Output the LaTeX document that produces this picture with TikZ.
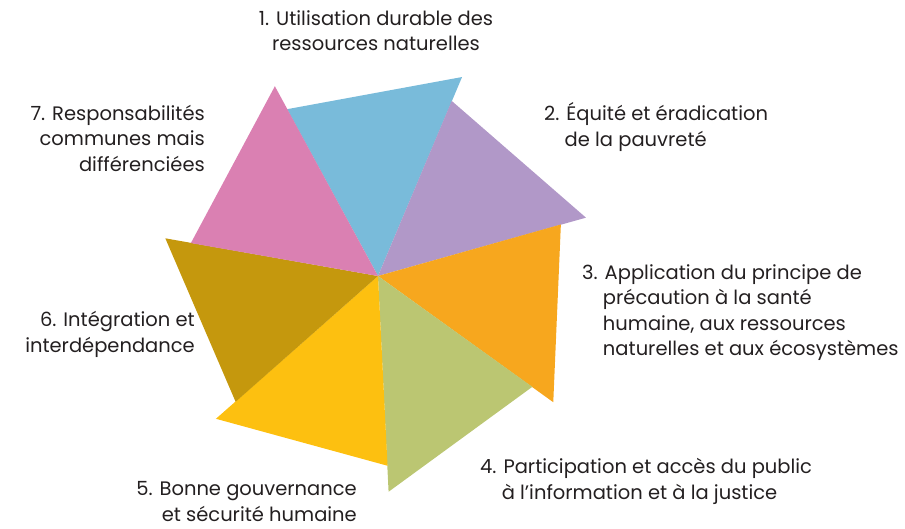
\documentclass[tikz,border=0pt]{standalone}
\usepackage{fontspec}
\setmainfont{Poppins}

\definecolor{tblue}{HTML}{79BBDA}
\definecolor{tpurple}{HTML}{B198C8}
\definecolor{torange}{HTML}{F7A71E}
\definecolor{tgreen}{HTML}{BBC672}
\definecolor{tyellow}{HTML}{FDC010}
\definecolor{tgold}{HTML}{C5980D}
\definecolor{tpink}{HTML}{DA80B2}
\definecolor{txt}{HTML}{231F20}

\tikzset{
    lbl/.style={font=\fontsize{19.5}{25.5}\selectfont, text=txt, inner sep=0pt},
}
% keeps the lines after the first one under the text, not under the number
\newcommand{\hang}[1]{\phantom{#1.\ }}

\begin{document}
\begin{tikzpicture}[x=1pt, y=1pt]
    \useasboundingbox (0, 0) rectangle (905, -528);
    \coordinate (O) at (378, -276);

    % seven wedges, each starting on the outer edge of the one before
    \foreach \c [count=\i] in {tblue, tpurple, torange, tgreen, tyellow, tgold, tpink}
        \fill[\c] (O) -- ([shift={({118.6 - 51.43*(\i-1)}:190)}]O)
                      -- ([shift={({67.1 - 51.43*(\i-1)}:216)}]O) -- cycle;

    % base = baseline of the last line
    \node[lbl, align=center, anchor=base] (p1) at (376, -50.5)
        {1. Utilisation durable des\\ressources naturelles};
    \node[lbl, align=left, anchor=base west] (p2) at (544, -146)
        {2. Équité et éradication\\\hang{2}de la pauvreté};
    \node[lbl, align=left, anchor=base west] (p3) at (582, -355.5)
        {3. Application du principe de\\\hang{3}précaution à la santé\\\hang{3}humaine, aux ressources\\\hang{3}naturelles et aux écosystèmes};
    \node[lbl, align=left, anchor=base west] (p4) at (480, -499)
        {4. Participation et accès du public\\\hang{4}à l’information et à la justice};
    \node[lbl, align=right, anchor=base east] (p5) at (357, -521)
        {5. Bonne gouvernance\\et sécurité humaine};
    \node[lbl, align=right, anchor=base east] (p6) at (195, -352)
        {6. Intégration et\\interdépendance};
    \node[lbl, align=right, anchor=base east] (p7) at (205, -171)
        {7. Responsabilités\\communes mais\\différenciées};
\end{tikzpicture}
\end{document}
